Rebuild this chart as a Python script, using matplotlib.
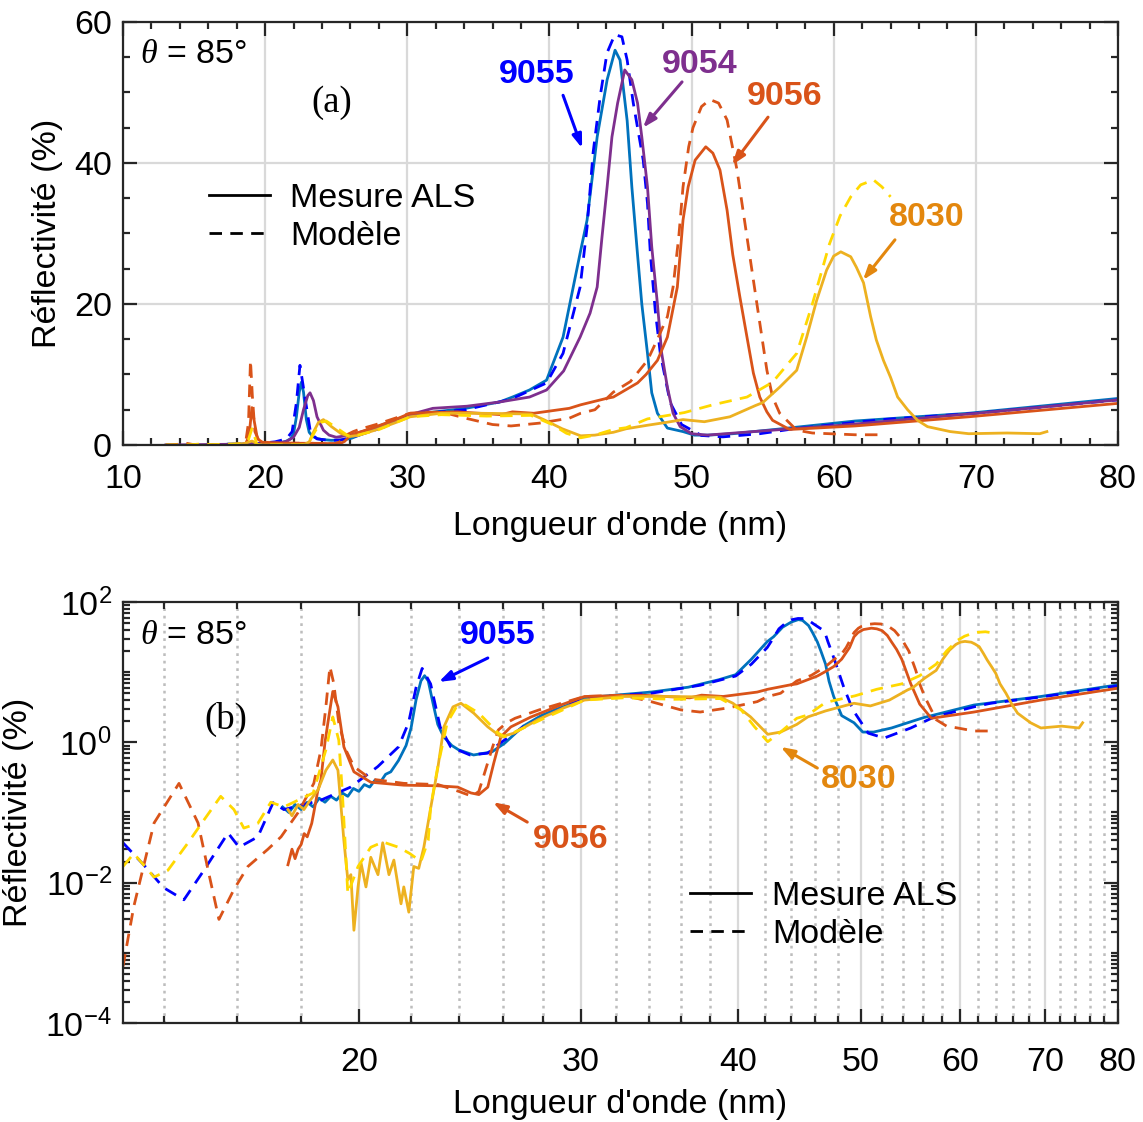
import numpy as np
import matplotlib
matplotlib.use('Agg')
import matplotlib.pyplot as plt
from matplotlib.ticker import (FixedLocator, MultipleLocator, LogLocator,
                               NullFormatter, LogFormatterSciNotation, FixedFormatter)
from matplotlib.lines import Line2D

plt.rcParams['font.family'] = ['Liberation Sans', 'DejaVu Sans']
plt.rcParams['mathtext.fontset'] = 'custom'
plt.rcParams['mathtext.it'] = 'Liberation Serif:italic'
plt.rcParams['mathtext.rm'] = 'Liberation Sans'

# ---------------- data (wavelength nm, reflectivity %) ----------------
w_9055_mod = [13.0, 13.5, 14.0, 14.53, 15.07, 15.75, 16.07, 16.63, 17.1, 17.44, 18.66, 19.7,
              20.7, 21.5, 21.9, 22.2, 22.45, 22.8, 23.2, 23.65, 24.5, 25.3, 25.9, 27.0, 28.6,
              30.2, 32.4, 34.1, 37.3, 39.8, 40.96, 42.16, 42.65, 43.07, 43.57, 44.05, 44.6,
              45.1, 45.47, 45.9, 46.6, 46.9, 47.1, 47.45, 47.8, 48.5, 49.3, 50.7, 52.2, 54.8,
              57.2, 61.5, 63.4, 70.0, 80.0]
r_9055_mod = [0.037, 0.018, 0.0085, 0.0057, 0.015, 0.051, 0.032, 0.045, 0.138, 0.11, 0.15, 0.23,
              0.45, 0.86, 1.9, 6.0, 11.3, 6.8, 1.66, 0.86, 0.66, 0.70, 0.98, 1.66, 2.7,
              4.3, 4.7, 5.0, 6.5, 8.8, 13.0, 22.4, 30.9, 41.4, 49.4, 55.6, 58.2,
              57.9, 54.6, 48.5, 40.4, 34.3, 27.2, 19.0, 13.0, 6.0, 2.9, 1.35, 1.15, 1.6,
              2.3, 3.2, 3.6, 4.5, 6.4]

w_9055_mes = [17.4, 17.6, 17.8, 18.0, 18.2, 18.4, 18.6, 18.8, 19.0, 19.2, 19.4, 19.6, 19.8, 20.0,
              20.2, 20.4, 20.6, 20.8, 21.0, 21.2, 21.5, 21.8, 22.0, 22.2, 22.4, 22.55, 22.7,
              22.9, 23.1, 23.35, 23.7, 24.0, 24.66, 25.5, 26.1, 27.0, 27.9, 28.6, 29.3, 30.2,
              32.4, 34.1, 36.5, 37.4, 38.6, 39.8, 40.96, 42.16, 42.65, 43.36, 44.06, 44.62,
              44.97, 45.47, 45.8, 46.2, 46.5, 46.9, 47.2, 47.6, 48.3, 49.4, 50.2, 51.2, 52.9,
              56.1, 61.5, 69.5, 80.0]
r_9055_mes = [0.12, 0.10, 0.13, 0.11, 0.14, 0.12, 0.16, 0.14, 0.17, 0.15, 0.19, 0.17, 0.22, 0.20,
              0.25, 0.23, 0.29, 0.27, 0.35, 0.38, 0.55, 0.9, 1.6, 4.0, 7.5, 8.9, 7.5,
              3.6, 1.8, 1.2, 0.9, 0.78, 0.66, 0.73, 0.97, 1.7, 2.4, 2.9, 3.4, 4.3,
              4.8, 5.2, 6.1, 6.8, 7.8, 9.2, 15.3, 27.2, 31.9, 43.7, 51.8, 56.0,
              54.6, 46.0, 36.6, 27.0, 20.0, 13.0, 7.4, 4.5, 2.4, 1.9, 1.4, 1.4, 1.6,
              2.25, 3.4, 4.5, 6.6]

w_9054_mes = [13.0, 17.5, 19.0, 20.0, 21.0, 21.5, 22.0, 22.4, 22.7, 23.0, 23.16, 23.4, 23.65,
              24.1, 24.5, 25.0, 25.97, 27.0, 27.9, 30.0, 31.8, 34.2, 36.5, 38.6, 39.8, 41.0,
              42.16, 42.86, 43.36, 43.7, 44.06, 44.4, 44.8, 45.3, 45.8, 46.2, 46.5, 46.9, 47.2,
              47.6, 47.9, 48.3, 48.7, 49.2, 50.0, 51.1, 55.0, 60.5, 70.1, 80.0]
r_9054_mes = [0.0, 0.1, 0.15, 0.2, 0.3, 0.5, 1.1, 2.5, 5.0, 7.0, 7.4, 6.3, 4.0,
              2.1, 1.4, 1.1, 1.4, 2.0, 2.6, 4.2, 5.2, 5.5, 6.1, 6.8, 7.8, 10.5,
              15.3, 18.7, 22.4, 29.5, 36.6, 43.7, 48.5, 53.2, 51.8, 48.5, 43.7, 36.6, 28.1,
              20.0, 13.0, 8.2, 4.5, 2.6, 1.6, 1.4, 2.0, 2.8, 4.5, 6.4]

w_9056_mes = [17.57, 17.7, 17.8, 17.9, 18.0, 18.1, 18.2, 18.35, 18.42, 18.55, 18.66, 18.8, 18.9,
              19.07, 19.25, 19.46, 19.82, 20.44, 21.71, 23.11, 23.96, 24.54, 24.9, 25.31, 25.59,
              25.92, 26.4, 27.39, 28.92, 30.2, 33.5, 36.6, 37.4, 38.9, 41.4, 42.2, 44.0, 44.5,
              46.2, 46.8, 47.6, 48.3, 49.0, 49.4, 49.76, 50.25, 51.0, 51.5, 52.0, 52.5, 52.9,
              53.4, 53.9, 54.35, 54.8, 55.3, 55.7, 56.9, 61.5, 69.5, 80.0]
r_9056_mes = [0.018, 0.03, 0.022, 0.03, 0.035, 0.05, 0.045, 0.07, 0.1, 0.2, 0.29, 1.0, 1.9,
              5.3, 3.2, 0.86, 0.38, 0.27, 0.245, 0.24, 0.23, 0.19, 0.18, 0.23, 0.51,
              1.2, 1.66, 2.3, 3.4, 4.5, 4.7, 4.3, 4.7, 4.5, 5.2, 5.7, 6.6, 6.8,
              8.8, 10.0, 12.0, 15.3, 22.4, 31.9, 36.6, 40.4, 42.3, 41.4, 39.0, 33.3, 27.0,
              21.0, 15.3, 10.2, 6.8, 4.7, 3.5, 2.2, 2.7, 4.0, 5.9]

w_9056_mod = [13.0, 13.26, 13.76, 14.4, 14.91, 15.2, 15.49, 15.92, 16.33, 16.94, 17.35, 17.9,
              18.42, 18.66, 18.83, 18.97, 19.1, 19.28, 19.53, 19.82, 20.44, 21.71, 23.11, 24.0,
              24.6, 24.9, 25.2, 25.5, 25.8, 26.2, 26.6, 27.8, 30.2, 32.4, 34.1, 36.0, 37.3,
              39.3, 41.4, 42.2, 43.2, 44.5, 45.7, 46.9, 47.6, 48.3, 48.7, 49.1, 49.4, 49.8,
              50.1, 50.7, 51.3, 51.9, 52.5, 53.2, 53.9, 54.6, 55.3, 55.7, 56.2, 57.4, 58.5,
              59.7, 61.5, 63.5]
r_9056_mod = [0.00064, 0.0046, 0.071, 0.26, 0.071, 0.014, 0.003, 0.008, 0.017, 0.03, 0.045, 0.1,
              0.26, 0.78, 3.2, 12.0, 7.0, 1.9, 0.78, 0.45, 0.3, 0.26, 0.25, 0.2,
              0.17, 0.2, 0.4, 0.8, 1.5, 1.9, 2.2, 2.9, 4.5, 4.7, 3.8, 2.9, 2.7,
              3.1, 3.8, 4.5, 5.0, 7.5, 9.0, 12.0, 15.0, 18.2, 22.4, 29.5, 36.6, 42.3,
              45.0, 48.0, 49.0, 48.5, 46.1, 39.0, 29.5, 20.0, 10.6, 6.8, 4.5, 2.1, 1.7,
              1.6, 1.45, 1.45]

w_8030_mes = [17.57, 17.7, 17.9, 18.09, 18.25, 18.4, 18.56, 18.83, 19.07, 19.25, 19.36, 19.46,
              19.6, 19.71, 19.82, 19.97, 20.08, 20.26, 20.44, 20.71, 20.89, 21.13, 21.32, 21.6,
              21.71, 21.91, 22.11, 22.31, 22.52, 22.81, 23.11, 23.36, 23.75, 24.1, 24.67, 25.31,
              25.92, 26.55, 27.73, 29.08, 30.2, 32.4, 35.1, 38.7, 39.6, 40.9, 42.2, 43.2, 44.5,
              45.4, 46.9, 48.2, 49.4, 50.9, 52.7, 54.5, 55.0, 56.2, 57.4, 58.1, 58.8, 59.5,
              60.0, 60.5, 61.2, 61.6, 62.1, 62.6, 63.0, 63.5, 64.0, 64.5, 65.2, 65.9, 66.6,
              68.2, 69.5, 72.2, 74.5, 75.0]
r_8030_mes = [0.11, 0.09, 0.13, 0.11, 0.14, 0.17, 0.21, 0.4, 0.56, 0.4, 0.12, 0.04,
              0.011, 0.013, 0.0021, 0.0087, 0.019, 0.0087, 0.023, 0.013, 0.037, 0.013, 0.021, 0.005,
              0.0087, 0.0038, 0.017, 0.016, 0.032, 0.12, 0.45, 1.66, 3.2, 3.6, 2.6, 1.66,
              1.2, 1.35, 2.1, 3.1, 4.0, 4.5, 4.5, 4.4, 3.6, 2.3, 1.3, 1.4, 1.8,
              2.3, 2.8, 3.2, 3.6, 3.3, 4.0, 5.6, 6.0, 8.2, 10.6, 15.3, 20.5, 24.8,
              26.8, 27.4, 26.7, 25.2, 23.0, 18.2, 14.9, 12.0, 9.6, 6.8, 5.0, 3.5, 2.6,
              1.9, 1.6, 1.7, 1.6, 1.9]

w_8030_mod = [13.0, 13.26, 13.76, 14.11, 14.64, 15.07, 15.54, 15.92, 16.21, 16.63, 17.03, 17.44,
              18.4, 18.83, 19.07, 19.28, 19.4, 19.5, 19.6, 19.97, 20.44, 20.9, 21.5, 21.95,
              22.4, 22.7, 22.8, 23.1, 23.5, 23.9, 24.3, 24.9, 25.8, 26.1, 27.9, 30.2, 32.4,
              35.6, 38.7, 40.2, 41.2, 42.2, 43.2, 44.5, 45.4, 46.9, 49.5, 51.5, 53.9, 55.7,
              57.4, 58.5, 59.7, 60.45, 61.2, 61.9, 62.8, 63.4, 64.0]
r_8030_mod = [0.017, 0.026, 0.012, 0.015, 0.037, 0.078, 0.17, 0.11, 0.06, 0.07, 0.14, 0.12,
              0.19, 0.78, 2.3, 1.07, 0.21, 0.04, 0.007, 0.017, 0.032, 0.038, 0.032, 0.026,
              0.02, 0.04, 0.12, 0.45, 1.9, 3.2, 3.4, 2.6, 1.35, 1.2, 2.1, 4.0, 4.3,
              4.1, 4.2, 2.9, 1.66, 1.02, 1.4, 2.2, 2.45, 3.7, 4.6, 5.7, 6.8, 8.9,
              13.0, 20.0, 28.5, 32.5, 35.2, 36.9, 37.6, 36.6, 35.2]

x_ticks_a = [10, 20, 30, 40, 50, 60, 70, 80]
y_ticks_a = [0, 20, 40, 60]
x_ticks_b = [20, 30, 40, 50, 60, 70, 80]
y_ticks_b = [1e-4, 1e-2, 1e0, 1e2]

C_TEAL = '#0072BD'
C_BLUE = '#0000FF'
C_PURP = '#7E2F8E'
C_ORNG = '#D95319'
C_GOLD = '#EDB120'
C_YELL = '#FFD800'
C_8030 = '#E3870E'

FS = 24.5
LW = 2.0
DASH = (4.5, 3)

fig = plt.figure(figsize=(11.43, 11.22), dpi=100)
ax_a = fig.add_axes([0.1076, 0.6034, 0.8705, 0.3770])
ax_b = fig.add_axes([0.1076, 0.0882, 0.8705, 0.3753])


def draw(ax, with_9054):
    ax.plot(w_9055_mes, r_9055_mes, color=C_TEAL, lw=LW)
    ax.plot(w_9055_mod, r_9055_mod, color=C_BLUE, lw=LW, dashes=DASH)
    if with_9054:
        ax.plot(w_9054_mes, r_9054_mes, color=C_PURP, lw=LW)
    ax.plot(w_9056_mes, r_9056_mes, color=C_ORNG, lw=LW)
    ax.plot(w_9056_mod, r_9056_mod, color=C_ORNG, lw=LW, dashes=DASH)
    ax.plot(w_8030_mes, r_8030_mes, color=C_GOLD, lw=LW)
    ax.plot(w_8030_mod, r_8030_mod, color=C_YELL, lw=LW, dashes=DASH)


def style(ax, xpad):
    for s in ax.spines.values():
        s.set_linewidth(1.6)
        s.set_color('#262626')
    ax.tick_params(which='both', direction='in', top=True, right=True,
                   width=1.6, color='#262626', labelsize=FS)
    ax.tick_params(which='major', length=10)
    ax.tick_params(which='minor', length=5)
    ax.tick_params(axis='x', which='major', pad=xpad)
    ax.tick_params(axis='y', which='major', pad=8)
    ax.set_axisbelow(True)


# ---------------- panel (a) ----------------
draw(ax_a, True)
ax_a.set_xlim(10, 80)
ax_a.set_ylim(0, 60)
ax_a.xaxis.set_major_locator(FixedLocator(x_ticks_a))
ax_a.yaxis.set_major_locator(FixedLocator(y_ticks_a))
ax_a.xaxis.set_minor_locator(MultipleLocator(2))
ax_a.yaxis.set_minor_locator(MultipleLocator(5))
ax_a.grid(True, which='major', color='#D9D9D9', lw=1.6)
style(ax_a, 14)
ax_a.set_xlabel("Longueur d'onde (nm)", fontsize=FS, labelpad=11)
ax_a.set_ylabel('Réflectivité (%)', fontsize=FS, labelpad=8)

ax_a.text(0.017, 0.922, r'$\theta$ = 85°', transform=ax_a.transAxes, fontsize=FS,
          ha='left', va='center')
ax_a.text(0.21, 0.81, '(a)', transform=ax_a.transAxes, fontsize=FS + 2,
          family='Liberation Serif', ha='center', va='center')

lh = [Line2D([], [], color='black', lw=LW), Line2D([], [], color='black', lw=LW, dashes=DASH)]
ax_a.legend(lh, ['Mesure ALS', 'Modèle'], loc='upper left', bbox_to_anchor=(0.086, 0.62),
            frameon=False, fontsize=FS, handlelength=1.8, handletextpad=0.6,
            labelspacing=0.2, borderpad=0, borderaxespad=0)

ap = lambda c: dict(arrowstyle='-|>,head_length=0.8,head_width=0.28', color=c, lw=2.2,
                    shrinkA=0, shrinkB=0)
ax_a.text(39.13, 52.5, '9055', color=C_BLUE, fontsize=FS, fontweight='bold', ha='center', va='center')
ax_a.annotate('', xy=(42.3, 42.1), xytext=(40.96, 49.6), arrowprops=ap(C_BLUE))
ax_a.text(50.6, 53.9, '9054', color=C_PURP, fontsize=FS, fontweight='bold', ha='center', va='center')
ax_a.annotate('', xy=(46.58, 45.0), xytext=(49.33, 51.5), arrowprops=ap(C_PURP))
ax_a.text(56.57, 49.4, '9056', color=C_ORNG, fontsize=FS, fontweight='bold', ha='center', va='center')
ax_a.annotate('', xy=(52.85, 39.7), xytext=(55.38, 46.5), arrowprops=ap(C_ORNG))
ax_a.text(66.56, 32.2, '8030', color=C_8030, fontsize=FS, fontweight='bold', ha='center', va='center')
ax_a.annotate('', xy=(62.06, 23.4), xytext=(64.31, 29.1), arrowprops=ap(C_8030))

# ---------------- panel (b) ----------------
draw(ax_b, False)
ax_b.set_xscale('log')
ax_b.set_yscale('log')
ax_b.set_xlim(13, 80)
ax_b.set_ylim(1e-4, 1e2)
ax_b.xaxis.set_major_locator(FixedLocator(x_ticks_b))
ax_b.xaxis.set_major_formatter(FixedFormatter([str(v) for v in x_ticks_b]))
minor_x = [v for v in range(14, 80, 2) if v not in x_ticks_b]
ax_b.xaxis.set_minor_locator(FixedLocator(minor_x))
ax_b.xaxis.set_minor_formatter(NullFormatter())
ax_b.yaxis.set_major_locator(FixedLocator(y_ticks_b))
ax_b.yaxis.set_major_formatter(LogFormatterSciNotation())
ax_b.yaxis.set_minor_locator(LogLocator(base=10, subs=np.arange(1, 10), numticks=100))
ax_b.yaxis.set_minor_formatter(NullFormatter())
ax_b.grid(True, axis='x', which='major', color='#D9D9D9', lw=1.6)
ax_b.grid(True, axis='x', which='minor', color='#BDBDBD', lw=1.8, linestyle=(0, (1.1, 1.9)))
style(ax_b, 17)
ax_b.set_xlabel("Longueur d'onde (nm)", fontsize=FS, labelpad=8)
ax_b.set_ylabel('Réflectivité (%)', fontsize=FS, labelpad=8)

ax_b.text(0.017, 0.921, r'$\theta$ = 85°', transform=ax_b.transAxes, fontsize=FS,
          ha='left', va='center')
ax_b.text(0.103, 0.72, '(b)', transform=ax_b.transAxes, fontsize=FS + 2,
          family='Liberation Serif', ha='center', va='center')

ax_b.legend(lh, ['Mesure ALS', 'Modèle'], loc='upper left', bbox_to_anchor=(0.57, 0.338),
            frameon=False, fontsize=FS, handlelength=1.8, handletextpad=0.6,
            labelspacing=0.2, borderpad=0, borderaxespad=0)

ax_b.text(25.78, 32.8, '9055', color=C_BLUE, fontsize=FS, fontweight='bold', ha='center', va='center')
ax_b.annotate('', xy=(23.14, 7.25), xytext=(25.31, 15.9), arrowprops=ap(C_BLUE))
ax_b.text(29.47, 0.0407, '9056', color=C_ORNG, fontsize=FS, fontweight='bold', ha='center', va='center')
ax_b.annotate('', xy=(25.55, 0.14), xytext=(27.2, 0.073), arrowprops=ap(C_ORNG))
ax_b.text(49.85, 0.291, '8030', color=C_8030, fontsize=FS, fontweight='bold', ha='center', va='center')
ax_b.annotate('', xy=(43.2, 0.86), xytext=(46.2, 0.43), arrowprops=ap(C_8030))

fig.savefig('out.png', dpi=100)
